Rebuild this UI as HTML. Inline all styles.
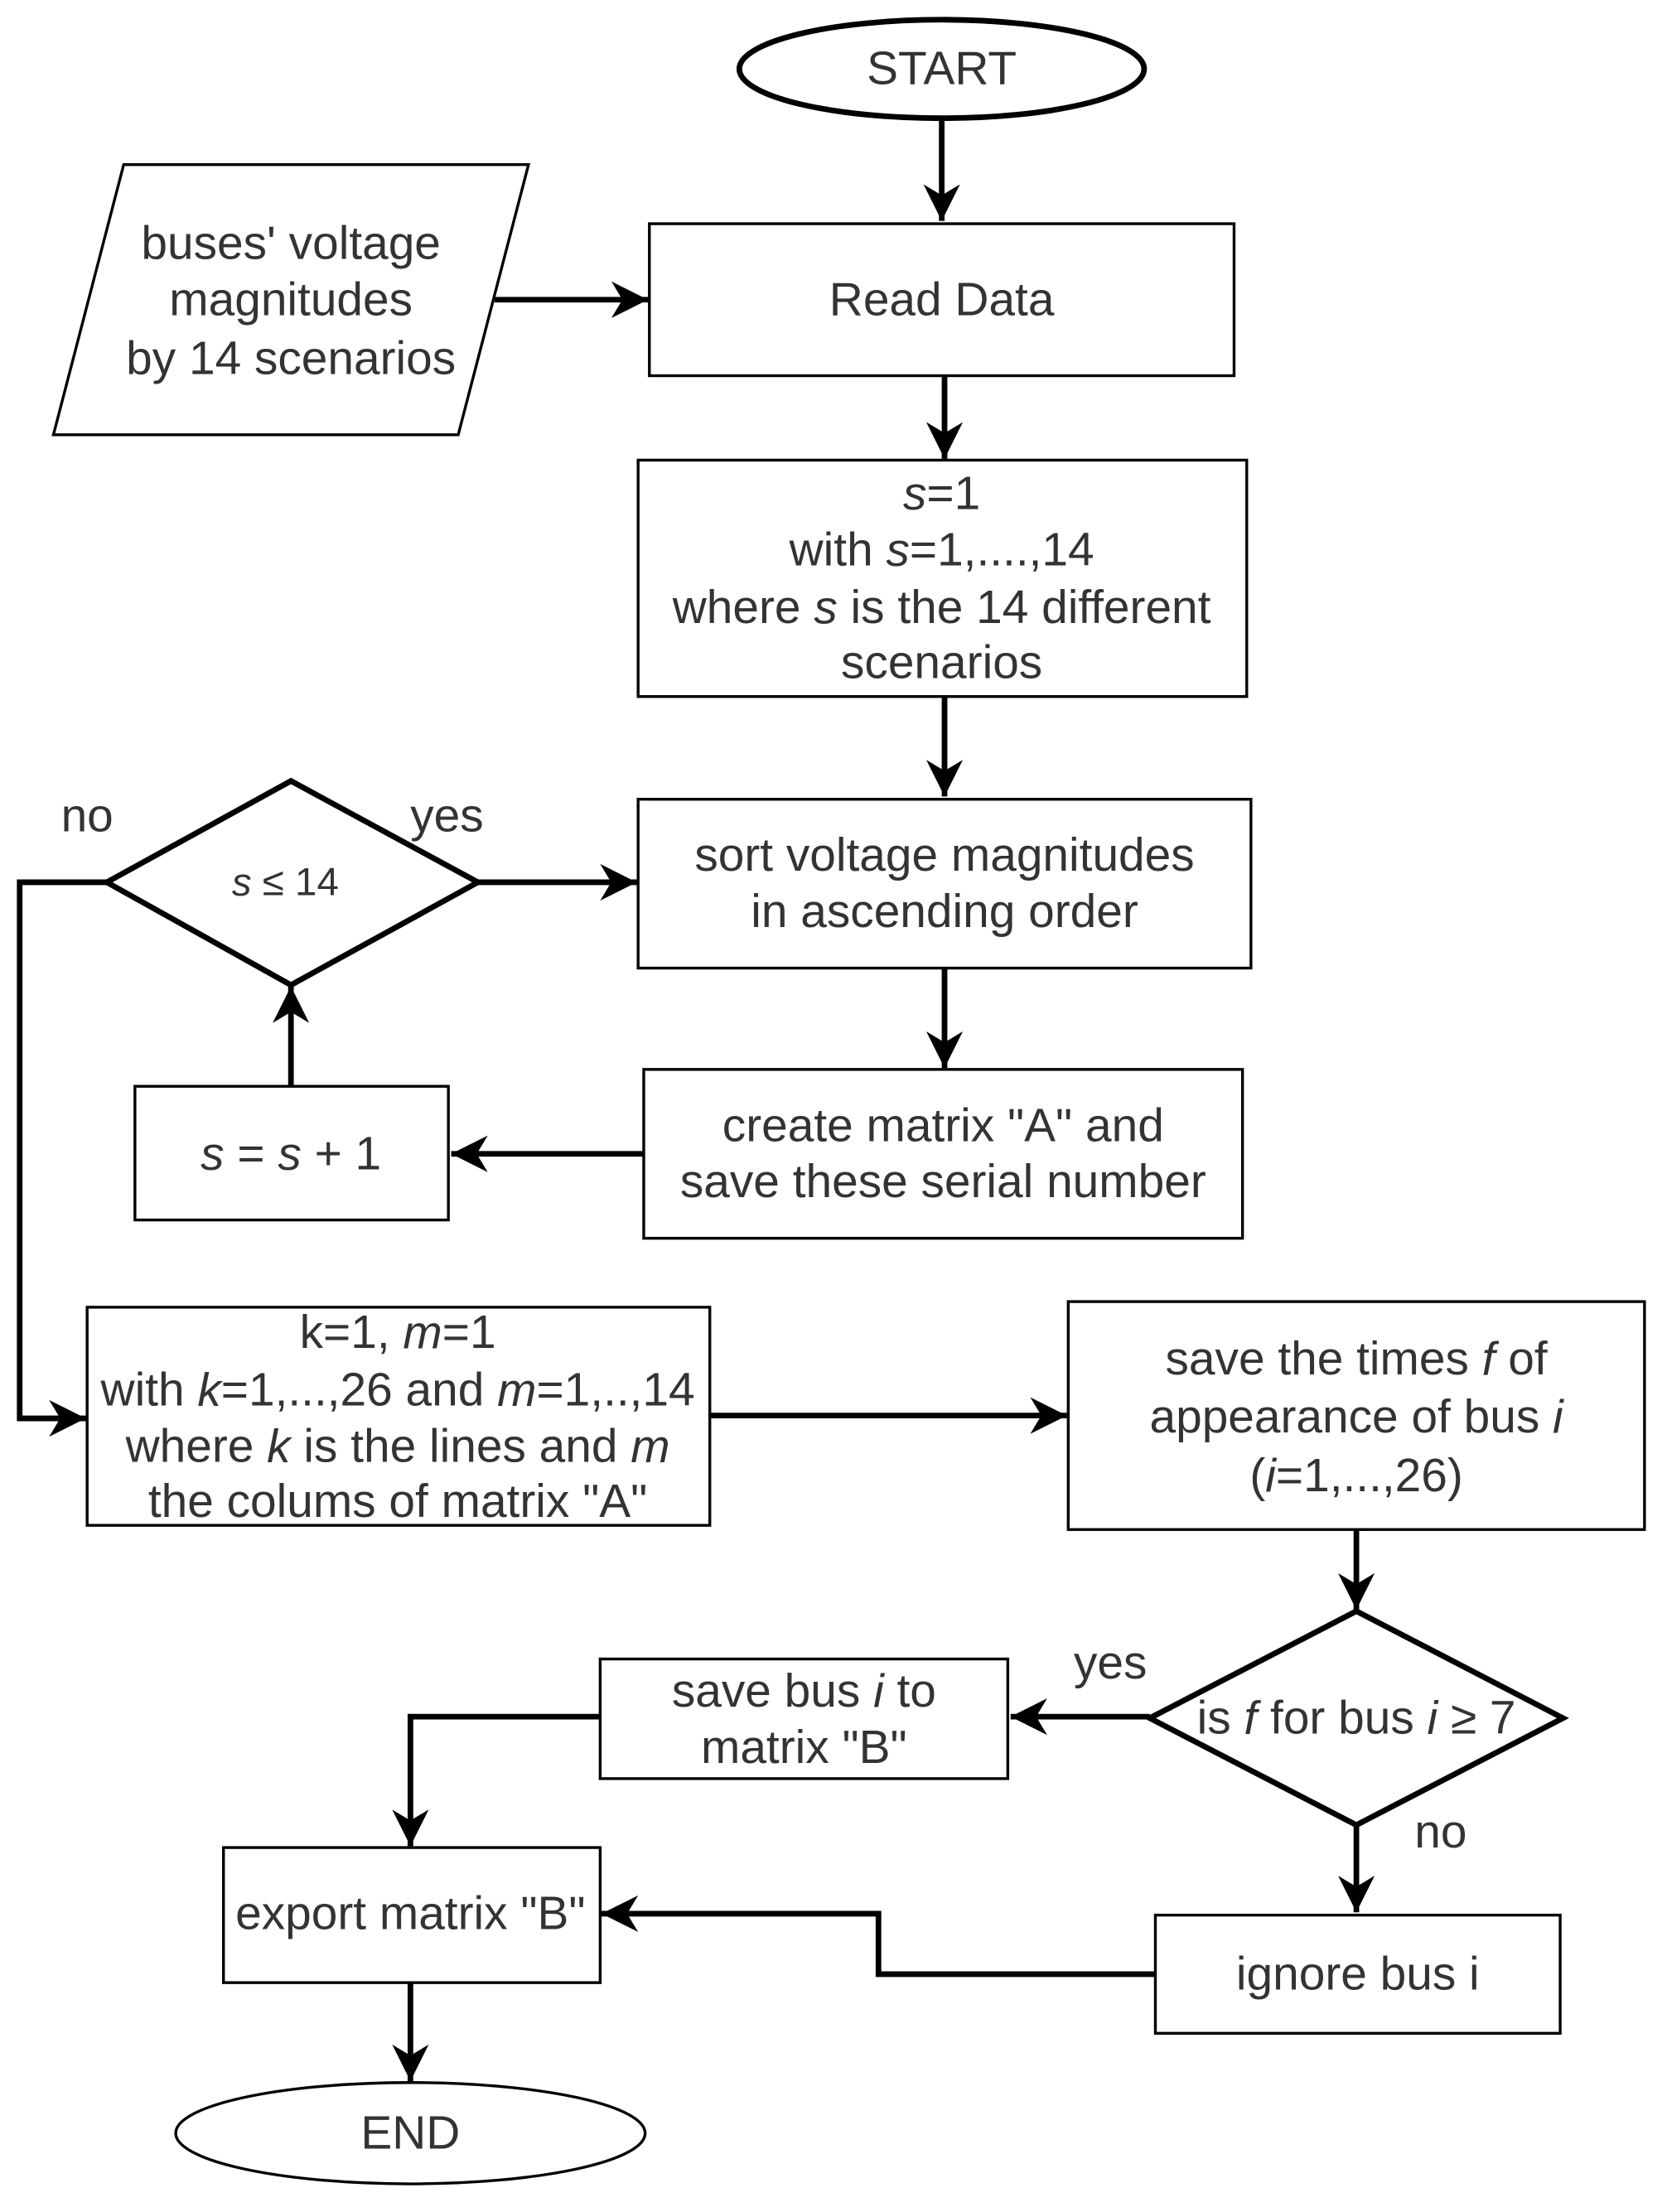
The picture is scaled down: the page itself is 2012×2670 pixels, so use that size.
<!DOCTYPE html>
<html><head><meta charset="utf-8"><style>
html,body{margin:0;padding:0;background:#fff;}
svg{display:block;}
text{font-family:"Liberation Sans",Arial,sans-serif;font-size:33.5px;fill:#333;text-anchor:middle;dominant-baseline:central;}
.i{font-style:italic;}
</style></head><body>
<svg width="2012" height="2670" viewBox="0 0 1186 1572" preserveAspectRatio="none" xmlns="http://www.w3.org/2000/svg">
<defs>
<marker id="a" viewBox="0 0 10 10" refX="10" refY="5" markerWidth="26" markerHeight="26" markerUnits="userSpaceOnUse" orient="auto">
<path d="M0,0 L10,5 L0,10 L3,5 Z" fill="#000"/>
</marker>
</defs>
<g fill="none" stroke="#000" stroke-width="4" marker-end="url(#a)">
<line x1="670" y1="85" x2="670" y2="157"/>
<line x1="352" y1="213" x2="461" y2="213"/>
<line x1="672" y1="267" x2="672" y2="326"/>
<line x1="672" y1="495" x2="672" y2="566"/>
<line x1="672" y1="688" x2="672" y2="759"/>
<line x1="458" y1="820" x2="321" y2="820"/>
<line x1="207" y1="772" x2="207" y2="701"/>
<line x1="340" y1="627" x2="453" y2="627"/>
<polyline points="76,627 14,627 14,1008 61,1008"/>
<line x1="505" y1="1006" x2="759" y2="1006"/>
<line x1="965" y1="1087" x2="965" y2="1144"/>
<line x1="818" y1="1220" x2="719" y2="1220"/>
<polyline points="427,1220 292,1220 292,1312"/>
<line x1="965" y1="1297" x2="965" y2="1359"/>
<polyline points="822,1403 625,1403 625,1360 428,1360"/>
<line x1="292" y1="1409" x2="292" y2="1479"/>
</g>
<g fill="#fff" stroke="#000" stroke-width="2">
<polygon points="88,117 376,117 326,309 38,309"/>
<rect x="462" y="159" width="416" height="108"/>
<rect x="454" y="327" width="433" height="168"/>
<rect x="454" y="568" width="436" height="120"/>
<rect x="458" y="760" width="426" height="120"/>
<rect x="96" y="772" width="223" height="95"/>
<rect x="62" y="929" width="443" height="155"/>
<rect x="760" y="925" width="410" height="162"/>
<rect x="427" y="1179" width="290" height="85"/>
<rect x="159" y="1313" width="268" height="96"/>
<rect x="822" y="1361" width="288" height="84"/>
<ellipse cx="292" cy="1516" rx="167" ry="36"/>
</g>
<g fill="#fff" stroke="#000" stroke-width="4">
<ellipse cx="670" cy="49" rx="144" ry="35"/>
<polygon points="207,555 340,627 207,700 76,627"/>
<polygon points="965,1145 1112,1221 965,1297 818,1221"/>
</g>
<text x="670" y="49">START</text>
<text x="207" y="173">buses' voltage</text>
<text x="207" y="213">magnitudes</text>
<text x="207" y="255">by 14 scenarios</text>
<text x="670" y="213">Read Data</text>
<text x="670" y="351"><tspan class="i">s</tspan>=1</text>
<text x="670" y="391">with <tspan class="i">s</tspan>=1,....,14</text>
<text x="670" y="432">where <tspan class="i">s</tspan> is the 14 different</text>
<text x="670" y="471">scenarios</text>
<text x="672" y="608">sort voltage magnitudes</text>
<text x="672" y="648">in ascending order</text>
<text x="671" y="800">create matrix "A" and</text>
<text x="671" y="840">save these serial number</text>
<text x="207" y="820"><tspan class="i">s</tspan> = <tspan class="i">s</tspan> + 1</text>
<text x="203" y="627" style="font-size:28px"><tspan class="i">s</tspan> ≤ 14</text>
<text x="318" y="580">yes</text>
<text x="62" y="580">no</text>
<text x="283" y="947">k=1, <tspan class="i">m</tspan>=1</text>
<text x="283" y="988">with <tspan class="i">k</tspan>=1,...,26 and <tspan class="i">m</tspan>=1,..,14</text>
<text x="283" y="1028">where <tspan class="i">k</tspan> is the lines and <tspan class="i">m</tspan></text>
<text x="283" y="1067">the colums of matrix "A"</text>
<text x="965" y="966">save the times <tspan class="i">f</tspan> of</text>
<text x="965" y="1007">appearance of bus <tspan class="i">i</tspan></text>
<text x="965" y="1049">(<tspan class="i">i</tspan>=1,...,26)</text>
<text x="965" y="1221">is <tspan class="i">f</tspan> for bus <tspan class="i">i</tspan> ≥ 7</text>
<text x="790" y="1182">yes</text>
<text x="1025" y="1302">no</text>
<text x="572" y="1202">save bus <tspan class="i">i</tspan> to</text>
<text x="572" y="1242">matrix "B"</text>
<text x="292" y="1360">export matrix "B"</text>
<text x="966" y="1403">ignore bus i</text>
<text x="292" y="1516">END</text>
</svg>
</body></html>
